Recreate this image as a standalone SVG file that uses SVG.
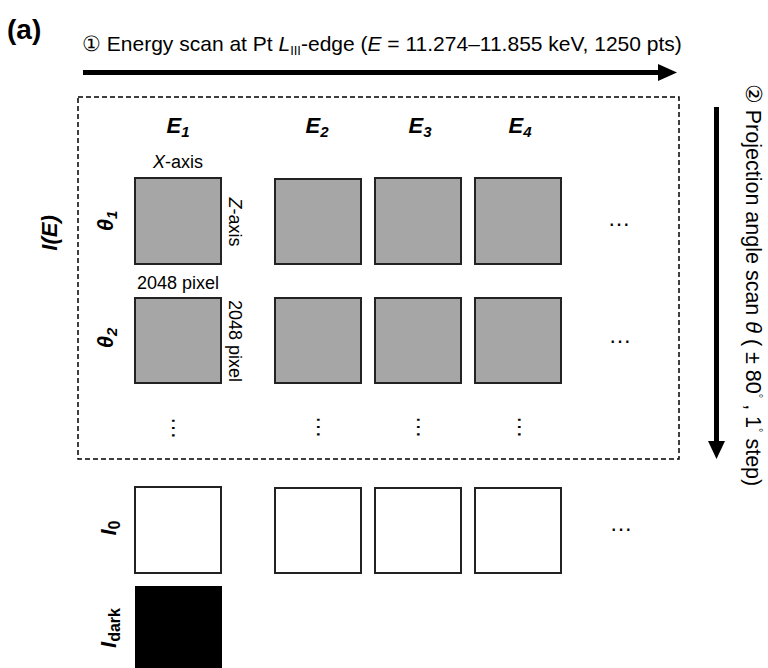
<svg xmlns="http://www.w3.org/2000/svg" width="768" height="668" viewBox="0 0 768 668">
<style>
text{font-family:"Liberation Sans",Arial,sans-serif;fill:#000}
.lbl{font-size:22px;font-weight:bold;font-style:italic}
.sm{font-size:18px}
.dots{font-size:23px;text-anchor:middle}
.img{fill:#a6a6a6;stroke:#222;stroke-width:2}
.ref{fill:#fff;stroke:#222;stroke-width:2}
</style>
<rect width="768" height="668" fill="#fff"/>
<text x="7" y="39" style="font-size:28px;font-weight:bold">(a)</text>
<text x="82" y="51" style="font-size:21px">① Energy scan at Pt <tspan font-style="italic">L</tspan><tspan font-size="13" dy="4">III</tspan><tspan dy="-4">-edge (</tspan><tspan font-style="italic">E</tspan> = 11.274–11.855 keV, 1250 pts)</text>
<g id="connectors">
<line x1="83" y1="72.5" x2="662" y2="72.5" stroke="#000" stroke-width="5"/>
<polygon points="658,64 677,72.5 658,81" fill="#000"/>
<line x1="716.5" y1="107" x2="716.5" y2="445" stroke="#000" stroke-width="5"/>
<polygon points="708,441 716.5,459 725,441" fill="#000"/>
</g>
<text transform="translate(746,285) rotate(90)" text-anchor="middle" style="font-size:21.5px">② Projection angle scan <tspan font-style="italic">θ</tspan> ( ± 80<tspan font-size="11" dy="-9">°</tspan><tspan dy="9"> , 1</tspan><tspan font-size="11" dy="-9">°</tspan><tspan dy="9"> step)</tspan></text>
<g id="stack">
<rect x="78" y="97" width="601" height="362" fill="none" stroke="#000" stroke-width="1.5" stroke-dasharray="5,3"/>
</g>
<text class="lbl" transform="translate(57,233) rotate(-90)" text-anchor="middle">I(E)</text>
<g id="headers">
<text class="lbl" x="178" y="133" text-anchor="middle">E<tspan font-size="15" dy="4">1</tspan></text>
<text class="lbl" x="317" y="133" text-anchor="middle">E<tspan font-size="15" dy="4">2</tspan></text>
<text class="lbl" x="420" y="133" text-anchor="middle">E<tspan font-size="15" dy="4">3</tspan></text>
<text class="lbl" x="520" y="133" text-anchor="middle">E<tspan font-size="15" dy="4">4</tspan></text>
<text class="lbl" transform="translate(113,221) rotate(-90)" text-anchor="middle">θ<tspan font-size="15" dy="4">1</tspan></text>
<text class="lbl" transform="translate(113,338) rotate(-90)" text-anchor="middle">θ<tspan font-size="15" dy="4">2</tspan></text>
<text class="lbl" transform="translate(116,528) rotate(-90)" text-anchor="middle">I<tspan font-size="16" font-style="normal" dy="4">0</tspan></text>
<text class="lbl" transform="translate(116,628) rotate(-90)" text-anchor="middle">I<tspan font-size="16" font-style="normal" dy="4">dark</tspan></text>
</g>
<g id="axis-labels">
<text class="sm" x="178" y="168" text-anchor="middle"><tspan font-style="italic">X</tspan>-axis</text>
<text class="sm" x="178" y="289" text-anchor="middle">2048 pixel</text>
<text class="sm" transform="translate(229,222) rotate(90)" text-anchor="middle"><tspan font-style="italic">Z</tspan>-axis</text>
<text class="sm" transform="translate(229,341) rotate(90)" text-anchor="middle">2048 pixel</text>
</g>
<g id="row-theta1">
<rect class="img" x="135" y="178" width="86" height="86"/>
<rect class="img" x="275" y="179" width="86" height="85"/>
<rect class="img" x="375" y="178" width="86" height="86"/>
<rect class="img" x="475" y="178" width="86" height="86"/>
<text class="dots" x="619" y="226">…</text>
</g>
<g id="row-theta2">
<rect class="img" x="135" y="298" width="86" height="85"/>
<rect class="img" x="275" y="298" width="86" height="85"/>
<rect class="img" x="375" y="298" width="86" height="85"/>
<rect class="img" x="475" y="298" width="86" height="85"/>
<text class="dots" x="620" y="343">…</text>
</g>
<g id="row-more">
<text class="dots" transform="translate(172,428) rotate(90)">…</text>
<text class="dots" transform="translate(317,427) rotate(90)">…</text>
<text class="dots" transform="translate(417,427) rotate(90)">…</text>
<text class="dots" transform="translate(518,427) rotate(90)">…</text>
</g>
<g id="row-I0">
<rect class="ref" x="135" y="487" width="86" height="86"/>
<rect class="ref" x="275" y="488" width="86" height="85"/>
<rect class="ref" x="375" y="488" width="86" height="85"/>
<rect class="ref" x="475" y="488" width="86" height="85"/>
<text class="dots" x="621" y="531">…</text>
</g>
<g id="row-Idark">
<rect x="135" y="586" width="87" height="84" fill="#000"/>
</g>
</svg>
